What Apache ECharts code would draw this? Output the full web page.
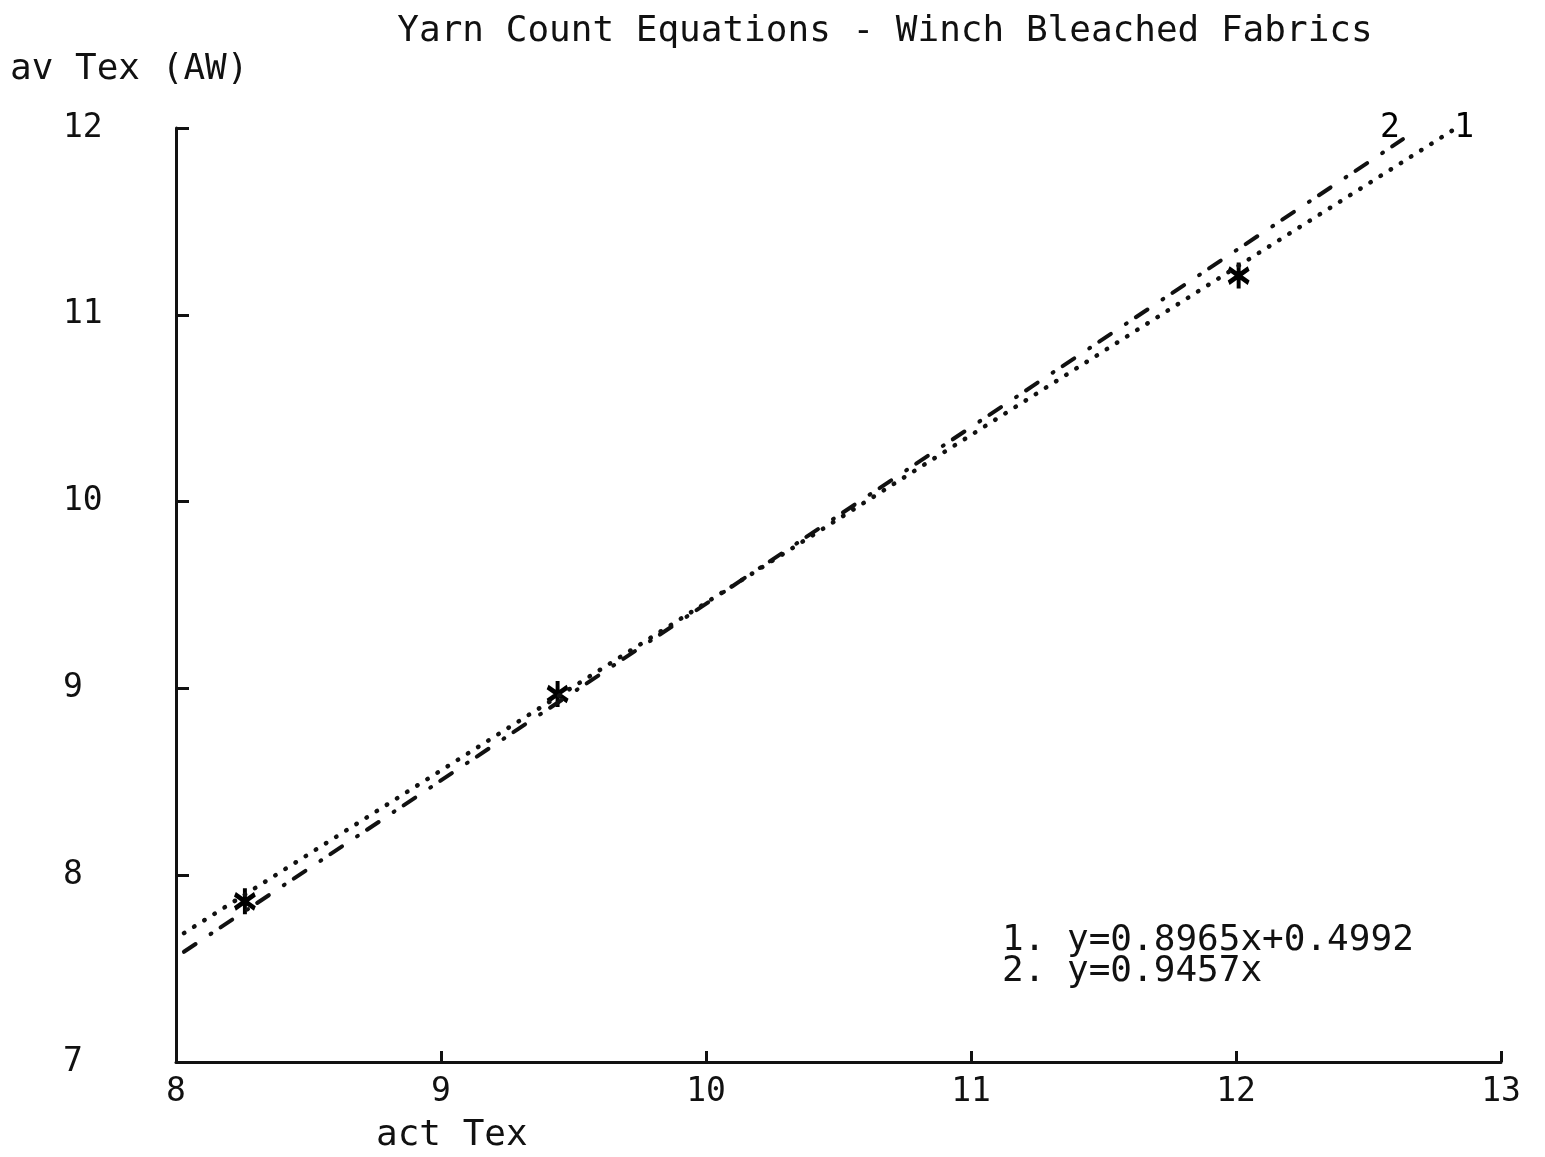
<!DOCTYPE html>
<html>
<head>
<meta charset="utf-8">
<script src="https://cdn.jsdelivr.net/npm/echarts@6/dist/echarts.min.js"></script>
<style>html,body{margin:0;padding:0;background:#fff}#c{width:1545px;height:1157px}</style>
</head>
<body>
<div id="c"></div>
<script>
// ---- data ----
var titleText = 'Yarn Count Equations - Winch Bleached Fabrics';
var xName = 'act Tex';
var yName = 'av Tex (AW)';
var xTicks = [8, 9, 10, 11, 12, 13];
var yTicks = [7, 8, 9, 10, 11, 12];
// measured points (asterisks)
var pointsX = [8.26, 9.44, 12.01];
var pointsY = [7.86, 8.97, 11.21];
// line 1 (dotted) endpoints: y=0.8965x+0.4992
var line1X = [8.03, 12.82];
var line1Y = [7.69, 11.99];
// line 2 (dash-dot) endpoints: y=0.9457x
var line2X = [8.03, 12.63];
var line2Y = [7.59, 11.94];
var lineNames = ['1', '2'];
var equations = ['1. y=0.8965x+0.4992', '2. y=0.9457x'];

function pairs(xs, ys) { return xs.map(function (x, i) { return [x, ys[i]]; }); }

var FONT = 'DejaVu Sans Mono';
var chart = echarts.init(document.getElementById('c'));
var option = {
  backgroundColor: '#ffffff',
  animation: false,
  title: {
    text: titleText,
    left: 880, top: 9, textAlign: 'center',
    textStyle: { fontFamily: FONT, fontSize: 36, fontWeight: 'normal', color: '#111' }
  },
  grid: { left: 176, right: 44, top: 128, bottom: 95 },
  xAxis: {
    type: 'value', min: xTicks[0], max: xTicks[xTicks.length - 1], interval: 1,
    axisLine: { lineStyle: { color: '#111', width: 3 } },
    axisTick: { show: true, inside: true, length: 11, lineStyle: { color: '#111', width: 3 } },
    axisLabel: { margin: 14, fontFamily: FONT, fontSize: 33, color: '#111' },
    splitLine: { show: false }
  },
  yAxis: {
    type: 'value', min: yTicks[0], max: yTicks[yTicks.length - 1], interval: 1,
    axisLine: { show: true, lineStyle: { color: '#111', width: 3 } },
    axisTick: { show: true, inside: true, length: 13, lineStyle: { color: '#111', width: 3 } },
    axisLabel: { margin: 113, align: 'left', fontFamily: FONT, fontSize: 33, color: '#111' },
    splitLine: { show: false }
  },
  graphic: [
    { type: 'text', left: 10, top: 52, style: { text: yName, font: '36px "DejaVu Sans Mono"', fill: '#111' } },
    { type: 'text', left: 376, top: 1118, style: { text: xName, font: '36px "DejaVu Sans Mono"', fill: '#111' } },
    { type: 'text', left: 1002, top: 923, style: { text: equations.join('\n'), font: '36px "DejaVu Sans Mono"', lineHeight: 31, fill: '#111' } }
  ],
  series: [
    {
      type: 'line', name: lineNames[0], data: pairs(line1X, line1Y),
      showSymbol: false, silent: true,
      lineStyle: { color: '#111', width: 4.5, type: [0.5, 11.5], cap: 'round' }
    },
    {
      type: 'line', name: lineNames[1], data: pairs(line2X, line2Y),
      showSymbol: false, silent: true,
      lineStyle: { color: '#111', width: 4, type: [14, 18, 1, 11], cap: 'round' }
    },
    {
      type: 'scatter', data: pairs(pointsX, pointsY), silent: true,
      symbol: 'path://M0,-11 L0,11 M-10,-6 L10,6 M-10,6 L10,-6',
      symbolSize: [20, 26],
      itemStyle: { color: 'rgba(0,0,0,0)', borderColor: '#000', borderWidth: 4.5, opacity: 1 }
    },
    {
      type: 'scatter', symbolSize: 1, silent: true, itemStyle: { color: 'rgba(0,0,0,0)', opacity: 1 },
      data: [
        { value: [line1X[1], line1Y[1]], label: { show: true, formatter: lineNames[0], position: 'top', distance: 0, offset: [11, 16] } },
        { value: [line2X[1], line2Y[1]], label: { show: true, formatter: lineNames[1], position: 'top', distance: 0, offset: [-13, 6] } }
      ],
      label: { fontFamily: FONT, fontSize: 33, color: '#000', opacity: 1 }
    }
  ]
};
chart.setOption(option);
</script>
</body>
</html>
